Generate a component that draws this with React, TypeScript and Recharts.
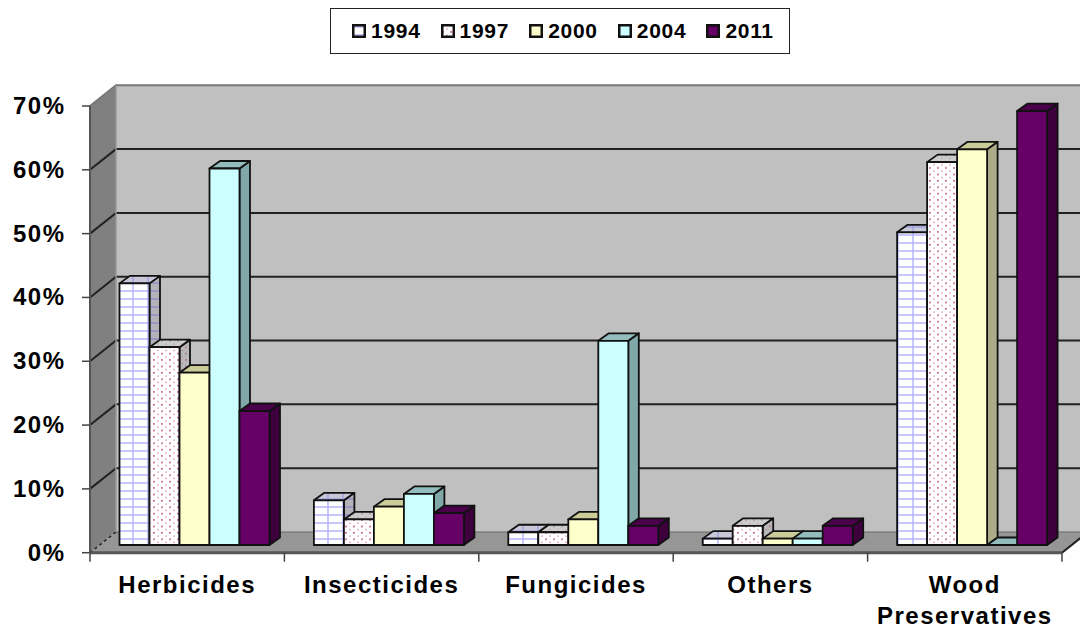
import React from 'react';
import { BarChart, Bar, XAxis, YAxis, Legend, Customized, usePlotArea } from 'recharts';

const categories = ['Herbicides', 'Insecticides', 'Fungicides', 'Others', 'Wood Preservatives'];
const years = ['1994', '1997', '2000', '2004', '2011'];
const v1994 = [41, 7, 2, 1, 49];
const v1997 = [31, 4, 2, 3, 60];
const v2000 = [27, 6, 4, 1, 62];
const v2004 = [59, 8, 32, 1, 0];
const v2011 = [21, 5, 3, 3, 68];
const yTicks = [0, 10, 20, 30, 40, 50, 60, 70];

const data = categories.map((name, i) => ({
  name,
  '1994': v1994[i],
  '1997': v1997[i],
  '2000': v2000[i],
  '2004': v2004[i],
  '2011': v2011[i],
}));

const FONT = '"Liberation Sans", Arial, sans-serif';
const WALL = { dx: 26, dy: -20.7 };
const SHIFT = { x: 7.5, y: -7.7 };
const DEPTH = { x: 10.5, y: -7.5 };

const fills: Record<string, string> = {
  '1994': 'url(#gridPat)',
  '1997': 'url(#dotPat)',
  '2000': '#FFFFCC',
  '2004': '#CCFFFF',
  '2011': '#660066',
};
const topFills: Record<string, string> = {
  '1994': 'url(#gridTop)',
  '1997': 'url(#dotTop)',
  '2000': '#CCCC99',
  '2004': '#93BDBD',
  '2011': '#4A004A',
};
const sideFills: Record<string, string> = {
  '1994': 'url(#gridSide)',
  '1997': 'url(#dotSide)',
  '2000': '#ABAB88',
  '2004': '#80A8A8',
  '2011': '#3D003D',
};

function PatternDefs() {
  const grid = (id: string, bg: string, line: string) => (
    <pattern id={id} width={15} height={8} patternUnits="userSpaceOnUse" patternTransform="translate(5 0)">
      <rect width={15} height={8} fill={bg} />
      <path d="M0 3H15" stroke={line} strokeWidth={1.4} />
      <path d="M8 0V8" stroke={line} strokeWidth={1.4} />
    </pattern>
  );
  const dots = (id: string, bg: string, dot: string) => (
    <pattern id={id} width={8} height={6.4} patternUnits="userSpaceOnUse">
      <rect width={8} height={6.4} fill={bg} />
      <circle cx={2} cy={1.6} r={1} fill={dot} />
      <circle cx={6} cy={4.8} r={0.8} fill={dot} opacity={0.7} />
    </pattern>
  );
  return (
    <defs>
      {grid('gridPat', '#FFFFFF', '#B0B0FF')}
      {grid('gridTop', '#C8C8D8', '#A0A0E0')}
      {grid('gridSide', '#B4B4B8', '#8C8CC8')}
      {dots('dotPat', '#FFFFFF', '#C8507A')}
      {dots('dotTop', '#CCCCCC', '#B090A0')}
      {dots('dotSide', '#B8B8B8', '#B07090')}
    </defs>
  );
}

function Walls() {
  const plot = usePlotArea();
  if (!plot) return null;
  const { x, y, width, height } = plot;
  const bottom = y + height;
  const right = x + width;
  const yOf = (v: number) => bottom - (v / 70) * height;
  const step = width / categories.length;
  return (
    <g>
      <PatternDefs />
      <rect x={x + WALL.dx} y={y + WALL.dy} width={width} height={height} fill="#C0C0C0" />
      <polygon
        points={`${x},${bottom} ${x + WALL.dx},${bottom + WALL.dy} ${x + WALL.dx},${y + WALL.dy} ${x},${y}`}
        fill="#808080"
      />
      <polygon
        points={`${x},${bottom} ${right},${bottom} ${right + WALL.dx},${bottom + WALL.dy} ${x + WALL.dx},${bottom + WALL.dy}`}
        fill="#969696"
      />
      {yTicks.map((t) =>
        t > 0 ? (
          <path
            key={t}
            d={`M${x} ${yOf(t)}L${x + WALL.dx} ${yOf(t) + WALL.dy}H${right + WALL.dx}`}
            fill="none"
            stroke={t === 70 ? '#777' : '#222'}
            strokeWidth={2}
          />
        ) : null
      )}
      <path
        d={`M${x} ${bottom}L${x + WALL.dx} ${bottom + WALL.dy}`}
        stroke="#222"
        strokeWidth={1.5}
        strokeDasharray="3 3"
      />
      <path d={`M${x + WALL.dx} ${bottom + WALL.dy}H${right + WALL.dx}`} stroke="#666" strokeWidth={1} />
      <path d={`M${x + WALL.dx} ${y + WALL.dy}V${bottom + WALL.dy}`} stroke="#999" strokeWidth={1.5} />
      <path d={`M${x} ${y}V${bottom}`} stroke="#555" strokeWidth={2} />
      <path d={`M${right} ${bottom}L${right + WALL.dx} ${bottom + WALL.dy}`} stroke="#222" strokeWidth={2} />
      <path d={`M${x} ${bottom}H${right}`} stroke="#555" strokeWidth={3} />
      {categories.concat('').map((_, i) => (
        <path key={i} d={`M${x + i * step} ${bottom}v9`} stroke="#444" strokeWidth={1.5} />
      ))}
    </g>
  );
}

function Bar3D(year: string) {
  return function Shape(props: any) {
    const { x, y, width, height } = props;
    const left = x + SHIFT.x;
    const top = y + SHIFT.y;
    const right = left + width;
    const base = top + height;
    const { x: dx, y: dy } = DEPTH;
    return (
      <g stroke="#111" strokeWidth={1.8} strokeLinejoin="round">
        <polygon
          points={`${right},${top} ${right + dx},${top + dy} ${right + dx},${base + dy} ${right},${base}`}
          fill={sideFills[year]}
        />
        <polygon
          points={`${left},${top} ${left + dx},${top + dy} ${right + dx},${top + dy} ${right},${top}`}
          fill={topFills[year]}
        />
        {height > 0 && <rect x={left} y={top} width={width} height={height} fill={fills[year]} />}
      </g>
    );
  };
}

function CategoryTick(props: any) {
  const { x, y, payload } = props;
  const words = String(payload.value).split(' ');
  return (
    <text
      x={x}
      y={y}
      textAnchor="middle"
      fontFamily={FONT}
      fontWeight="bold"
      fontSize={24}
      letterSpacing={1.5}
      fill="#000"
    >
      {words.map((w, i) => (
        <tspan key={w} x={x} y={y + 32 + i * 31}>
          {w}
        </tspan>
      ))}
    </text>
  );
}

function ValueTick(props: any) {
  const { x, y, payload } = props;
  return (
    <text
      x={x - 14.5}
      y={y + 8}
      textAnchor="end"
      fontFamily={FONT}
      fontWeight="bold"
      fontSize={24}
      letterSpacing={1.5}
      fill="#000"
    >
      {`${payload.value}%`}
    </text>
  );
}

function LegendBox(props: any) {
  const items: any[] = props.payload || [];
  return (
    <div
      style={{
        width: 460,
        height: 46,
        boxSizing: 'border-box',
        background: '#fff',
        border: '1.5px solid #222',
        display: 'flex',
        alignItems: 'center',
        paddingLeft: 21,
        fontFamily: FONT,
        fontWeight: 'bold',
        fontSize: 21,
        letterSpacing: 0.7,
        color: '#000',
      }}
    >
      {items.map((it) => (
        <div key={it.value} style={{ width: 88.6, display: 'flex', alignItems: 'center', flex: 'none' }}>
          <svg width={14} height={14} style={{ marginRight: 5, flex: 'none' }}>
            <rect x={1.25} y={1.25} width={11.5} height={11.5} fill={fills[it.value]} stroke="#111" strokeWidth={2.5} />
          </svg>
          <span>{it.value}</span>
        </div>
      ))}
    </div>
  );
}

export default function App() {
  return (
    <div style={{ position: 'absolute', left: 0, top: 0, width: 1080, height: 629, overflow: 'hidden', background: '#fff' }}>
      <BarChart
        width={1080}
        height={629}
        data={data}
        barSize={30}
        barGap={0}
        margin={{ top: 106, right: 18, bottom: 0, left: 0 }}
      >
        <Customized component={<Walls />} />
        <XAxis
          dataKey="name"
          axisLine={false}
          tickLine={false}
          interval={0}
          height={76.3}
          tick={<CategoryTick />}
        />
        <YAxis
          width={90}
          domain={[0, 70]}
          ticks={yTicks}
          axisLine={false}
          tickLine={{ stroke: '#444', strokeWidth: 1.5 }}
          tickSize={8}
          tick={<ValueTick />}
        />
        <Legend
          layout="horizontal"
          verticalAlign="middle"
          align="center"
          content={<LegendBox />}
          wrapperStyle={{ position: 'absolute', left: 330, top: 8, width: 460, height: 46 }}
        />
        {years.map((yr) => (
          <Bar key={yr} dataKey={yr} name={yr} fill={fills[yr]} isAnimationActive={false} shape={Bar3D(yr)} />
        ))}
      </BarChart>
    </div>
  );
}
